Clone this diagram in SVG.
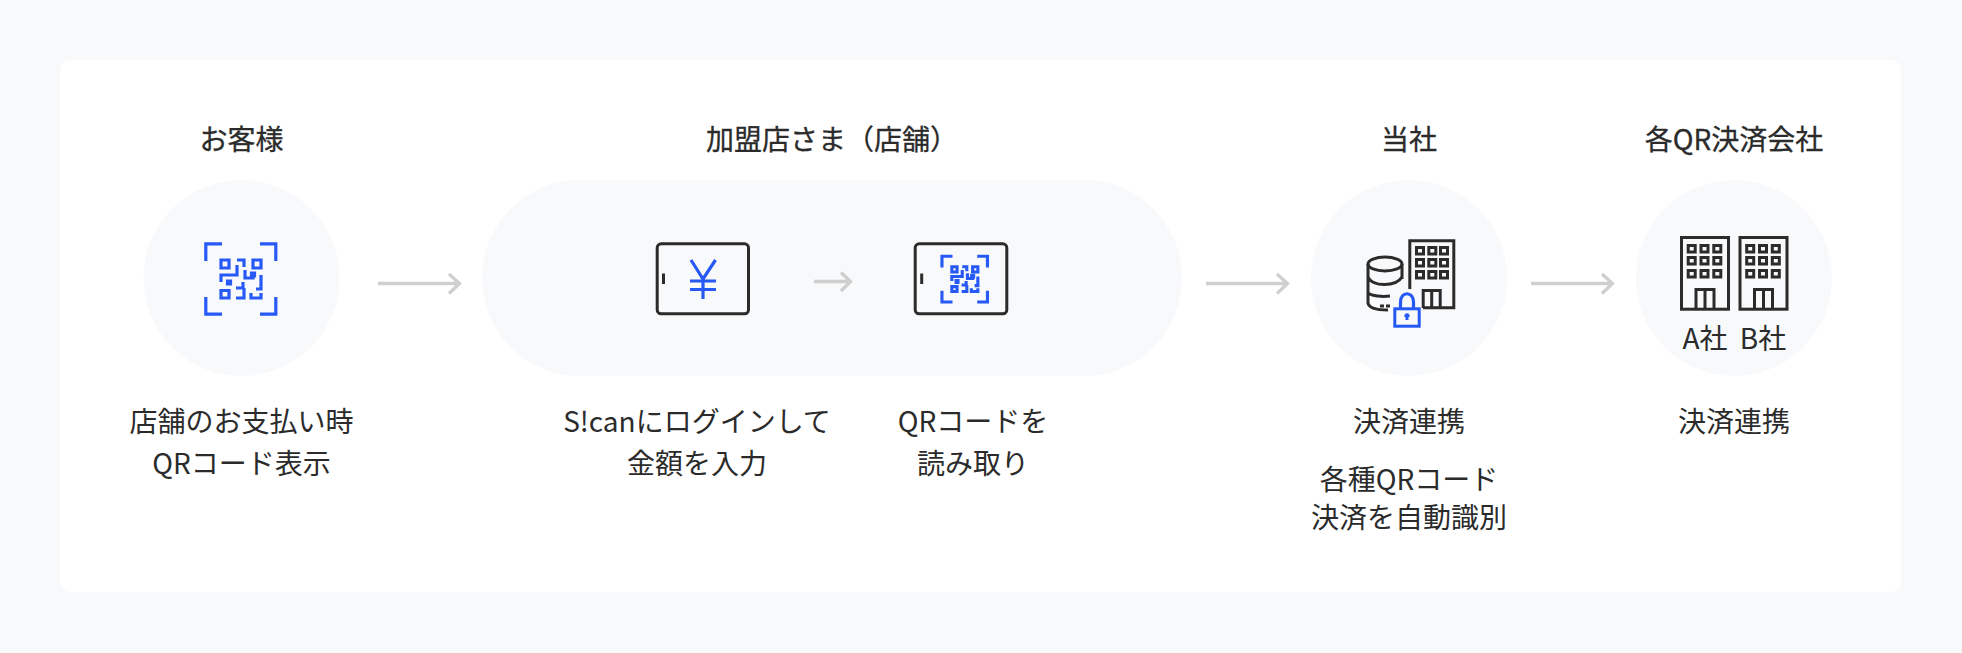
<svg xmlns="http://www.w3.org/2000/svg" xmlns:xlink="http://www.w3.org/1999/xlink" width="1962" height="653" viewBox="0 0 1962 653">
<style>
text{font-family:"Noto Sans CJK JP","Noto Sans",sans-serif;fill:#2b2b2b;text-anchor:middle;font-size:28px}
.h{stroke:#2b2b2b;stroke-width:.3}
.bg{fill:#f8f9fb}
.arrow{fill:none;stroke:#cfcfcf;stroke-width:3.300}
.blue{fill:none;stroke:#2659f5;stroke-width:3.200}
.dark{fill:none;stroke:#2b2b2b;stroke-width:3}
</style>
<defs>
<g id="qr">
<path d="M15.800 31V13.800H32M70 13.800H85.800V31M15.800 67V84.200H32M70 84.200H85.800V67"/>
<path d="M31 30h8v8h-8zM63 30h8v8h-8zM31 60.500h8v7.500h-8zM47 30h7v7M47 35v10H31v7M63 44v4h-8v-8M71 45v14h-5M53 52v6h-7M54 58v10h-8M61 63v5h10v-5"/>
<path d="M37.500 51h3v3h-3zM61.500 43h3v3h-3z"/>
</g>
<g id="building">
<rect x="1.500" y="1.500" width="47" height="71.700"/>
<rect x="8.200" y="9.500" width="7" height="6.500"/><rect x="21" y="9.500" width="7" height="6.500"/><rect x="33.800" y="9.500" width="7" height="6.500"/>
<rect x="8.200" y="21.500" width="7" height="6.500"/><rect x="21" y="21.500" width="7" height="6.500"/><rect x="33.800" y="21.500" width="7" height="6.500"/>
<rect x="8.200" y="34.500" width="7" height="6.500"/><rect x="21" y="34.500" width="7" height="6.500"/><rect x="33.800" y="34.500" width="7" height="6.500"/>
<path d="M16 73V53.500H34V73M25 53.500V73"/>
</g>
</defs>
<rect width="1962" height="653" class="bg"/>
<rect id="card" x="60" y="60" width="1841" height="532" rx="10" fill="#fff"/>
<g id="customer">
<text class="h" x="241.500" y="150">お客様</text>
<circle class="bg" cx="241.500" cy="278" r="98"/>
<use href="#qr" transform="translate(190 230)" class="blue"/>
<text x="241.500" y="432">店舗のお支払い時</text>
<text x="241.500" y="474">QRコード表示</text>
</g>
<g id="merchant">
<text class="h" x="832" y="150">加盟店さま（店舗）</text>
<rect class="bg" x="482" y="180" width="700" height="196" rx="98"/>
<g id="tablet-yen">
<rect class="dark" x="657.200" y="243.800" width="91.300" height="70" rx="4"/>
<path class="dark" d="M663.500 273.500V284"/>
<path class="blue" d="M691 260L703 279L715.500 260M690 281H716M690 289.500H716M703 279V299"/>
</g>
<g id="tablet-qr">
<rect class="dark" x="915.200" y="243.800" width="91.600" height="70" rx="4"/>
<path class="dark" d="M921.700 273.500V284"/>
<use href="#qr" transform="translate(931.700 247.300) scale(.65)" style="fill:none;stroke:#2659f5;stroke-width:4.800"/>
</g>
<text x="697" y="432">S!canにログインして</text>
<text x="697" y="474">金額を入力</text>
<text x="973" y="432">QRコードを</text>
<text x="973" y="474">読み取り</text>
</g>
<g id="our-company">
<text class="h" x="1409" y="150">当社</text>
<circle class="bg" cx="1409" cy="278" r="98"/>
<g id="icon-db" class="dark">
<ellipse cx="1385" cy="264" rx="17" ry="7"/>
<path d="M1368 264V303C1369 309 1378 310 1388 310M1402 264V279M1368 277C1372 287 1396 287 1402 277M1368 293C1372 296 1382 297 1390 296M1380 306H1384M1386 306H1390"/>
</g>
<g id="icon-hq" class="dark">
<path d="M1409.800 289V240.800H1453.800V307.800H1423"/>
<rect x="1416.500" y="247.500" width="7" height="6.500"/><rect x="1428.800" y="247.500" width="7" height="6.500"/><rect x="1440.500" y="247.500" width="7" height="6.500"/>
<rect x="1416.500" y="259.500" width="7" height="6.500"/><rect x="1428.800" y="259.500" width="7" height="6.500"/><rect x="1440.500" y="259.500" width="7" height="6.500"/>
<rect x="1416.500" y="271.500" width="7" height="6.500"/><rect x="1428.800" y="271.500" width="7" height="6.500"/><rect x="1440.500" y="271.500" width="7" height="6.500"/>
<path d="M1423.200 308V290.500H1440.200V308M1431.700 290.500V308"/>
</g>
<g id="icon-lock">
<rect x="1394.800" y="308.800" width="24.400" height="17.400" fill="#f8f9fb" stroke="#2659f5" stroke-width="3"/>
<path class="blue" d="M1400.500 308V302C1400.500 291 1413.500 291 1413.500 302V308"/>
<path d="M1404.500 317a2.700 2.700 0 1 1 5 0l-1 0v3h-3v-3z" fill="#2659f5"/>
</g>
<text x="1409" y="432">決済連携</text>
<text x="1409" y="490">各種QRコード</text>
<text x="1409" y="528">決済を自動識別</text>
</g>
<g id="qr-companies">
<text class="h" x="1734" y="150">各QR決済会社</text>
<circle class="bg" cx="1734" cy="278" r="98"/>
<use href="#building" transform="translate(1680 236)" class="dark"/>
<use href="#building" transform="translate(1738.500 236)" class="dark"/>
<text x="1705" y="349">A社</text>
<text x="1763" y="349">B社</text>
<text x="1734" y="432">決済連携</text>
</g>
<g id="connectors" class="arrow">
<path d="M378 283.500H459M449 274L459.500 283.500L449 293.500"/>
<path d="M814 281.500H850M841 272.500L850.500 281.500L841 291"/>
<path d="M1206 283.500H1287M1277 274L1287.500 283.500L1277 293.500"/>
<path d="M1531 283.500H1612M1602 274L1612.500 283.500L1602 293.500"/>
</g>
</svg>
